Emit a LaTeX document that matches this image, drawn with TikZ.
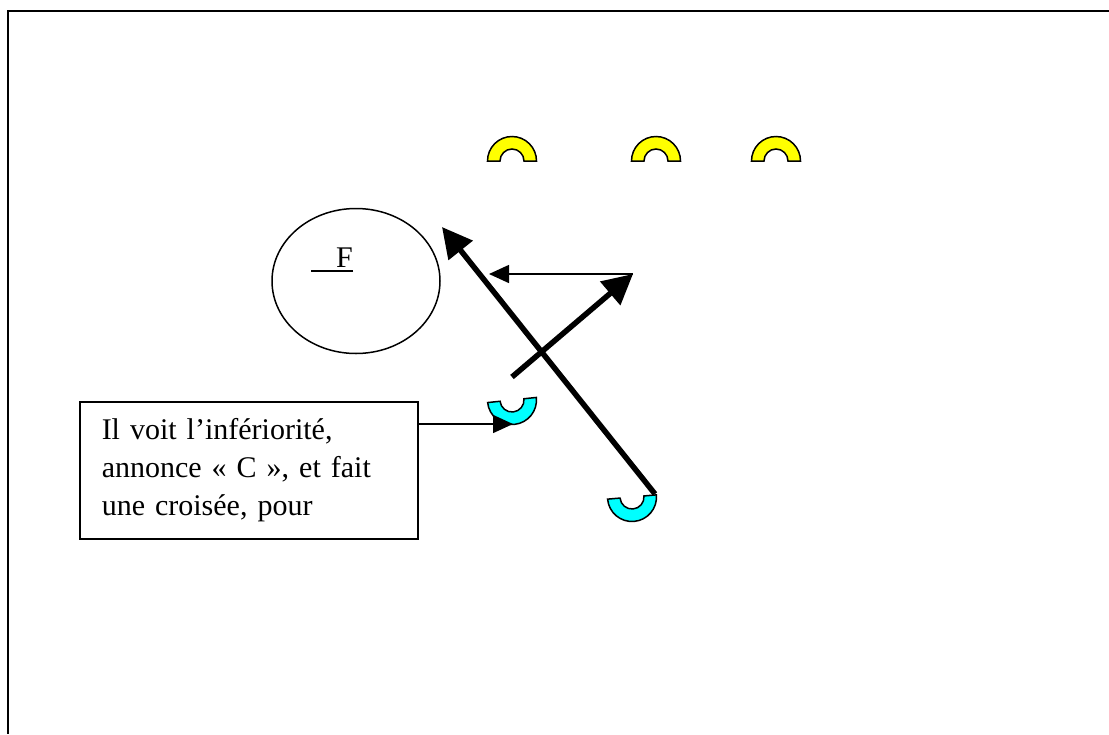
\documentclass[tikz,border=0pt]{standalone}
\usepackage{fontspec}
\setmainfont{Liberation Serif}
\usetikzlibrary{positioning, arrows.meta, shapes.geometric}

\definecolor{oppyellow}{RGB}{255,255,0}
\definecolor{matecyan}{RGB}{0,255,255}

\begin{document}
\begin{tikzpicture}[
    x=1pt, y=-1pt,
    % --- Styles ---
    note/.style={
        rectangle,
        draw=black,
        line width=1.5pt,
        minimum width=338pt,
        minimum height=137pt,
        inner xsep=22pt,
        text width=294pt,
        align=left,
        font=\fontsize{30}{38}\selectfont,
        anchor=north west
    },
    zone/.style={
        ellipse,
        draw=black,
        line width=1.5pt,
        minimum width=168pt,
        minimum height=145pt
    },
    tag/.style={
        inner sep=0pt,
        font=\fontsize{30}{38}\selectfont,
        anchor=base east
    },
    bigarrow/.style={
        -{Triangle[length=30pt, width=30pt]},
        line width=5.5pt
    },
    arrow/.style={
        -{Triangle[length=20pt, width=18pt]},
        line width=1.5pt
    },
    cap/.pic={
        \draw[line width=1.5pt, fill=#1]
            (-24.5,0) arc[start angle=180, end angle=360, radius=24.5]
            -- (12,0) arc[start angle=360, end angle=180, radius=12] -- cycle;
    }
]

\useasboundingbox (0,0) rectangle (1109,734);
\draw[line width=2pt] (1109,10.5) -- (7.5,10.5) -- (7.5,734);

% --- Players ---
\coordinate (opp1) at (512,161);
\coordinate (opp2) at (656,161);
\coordinate (opp3) at (776,161);
\coordinate (mate1) at (512,400);
\coordinate (mate2) at (632,497);

\pic at (opp1) {cap=oppyellow};
\pic at (opp2) {cap=oppyellow};
\pic at (opp3) {cap=oppyellow};
\pic[rotate=186] at (mate1) {cap=matecyan};
\pic[rotate=185] at (mate2) {cap=matecyan};

% --- Nodes ---
\node[zone] (goal) at (356,281) {};
\node[tag] (flabel) at (353,267) {F};
\draw[line width=1.5pt] (flabel.base east) ++(0,4) -- ++(-42,0);

\node[note] (comment) at (79,401)
    {Il voit l’infériorité,\\annonce «~C~», et fait\\une croisée, pour};

% --- Runs ---
\coordinate (startA) at (655,494);
\coordinate (endA) at (442,227);
\coordinate (startB) at (512,377);
\coordinate (endB) at (633,274);
\coordinate (endC) at (489,274);
\coordinate (hint) at (513,424);

% --- Arrows ---
\draw[bigarrow] (startA) -- (endA);
\draw[bigarrow] (startB) -- (endB);
\draw[arrow] (endB) -- (endC);
\draw[arrow] (comment.east |- hint) -- (hint);

\end{tikzpicture}
\end{document}
